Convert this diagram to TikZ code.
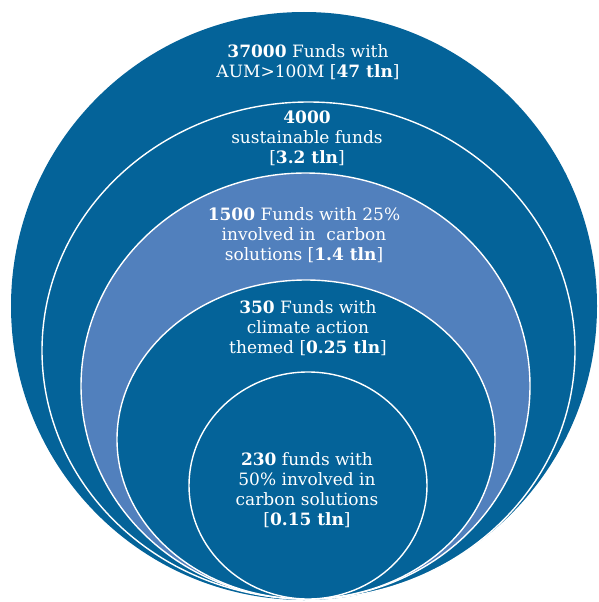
\documentclass[tikz,border=0pt]{standalone}
\usepackage{fontspec}
\setmainfont{DejaVu Serif}
\definecolor{darkb}{RGB}{4,99,153}
\definecolor{lightb}{RGB}{81,128,189}
\tikzset{
  ring/.style={draw=white, line width=1.4pt},
  label/.style={text=white, align=center, inner sep=0pt, font=\fontsize{17}{20}\selectfont}
}
\begin{document}
\begin{tikzpicture}[x=1pt,y=-1pt]
\useasboundingbox (0,0) rectangle (598,602);
\fill[darkb] (304,306) ellipse [x radius=293pt, y radius=294pt];
\filldraw[ring, fill=darkb] (308.5,350.5) ellipse [x radius=266.5pt, y radius=248.5pt];
\filldraw[ring, fill=lightb] (305.5,386) ellipse [x radius=224.5pt, y radius=213pt];
\filldraw[ring, fill=darkb] (306,439.5) ellipse [x radius=189pt, y radius=159.5pt];
\filldraw[ring, fill=darkb] (308,485.5) ellipse [x radius=119pt, y radius=113.5pt];
\node[label] (t1) at (308,62) {\textbf{37000} Funds with\\AUM>100M [\textbf{47 tln}]};
\node[label] (t2) at (307,138) {\textbf{4000}\\sustainable funds\\{[}\textbf{3.2 tln}]};
\node[label] (t3) at (304,235) {\textbf{1500} Funds with 25\%\\involved in\ \ carbon\\solutions [\textbf{1.4 tln}]};
\node[label] (t4) at (308,328) {\textbf{350} Funds with\\climate action\\themed [\textbf{0.25 tln}]};
\node[label] (t5) at (307,490) {\textbf{230} funds with\\50\% involved in\\carbon solutions\\{[}\textbf{0.15 tln}]};
\end{tikzpicture}
\end{document}
